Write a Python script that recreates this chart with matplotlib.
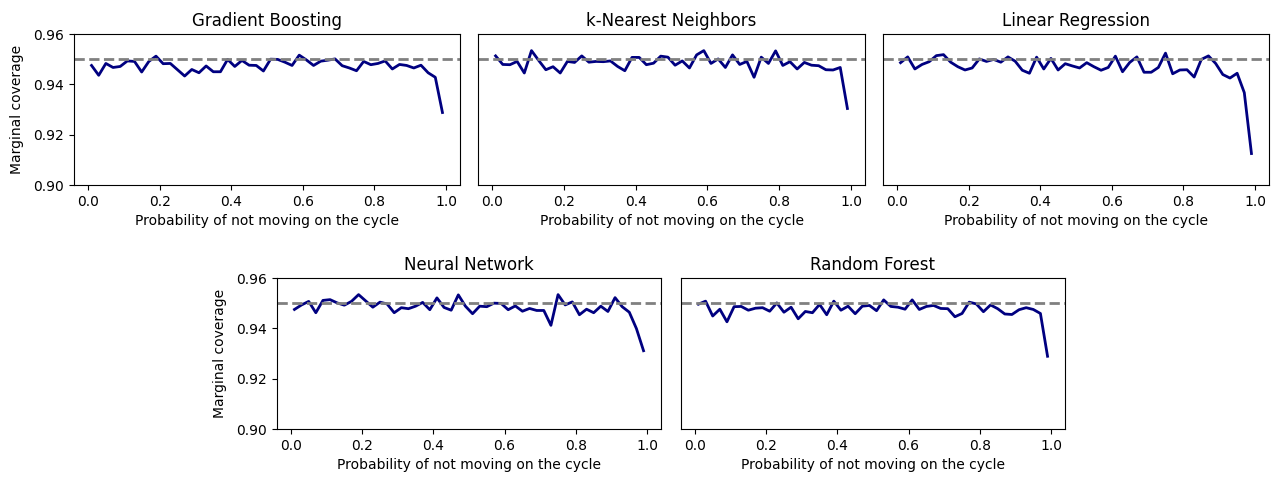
import numpy as np
import matplotlib
matplotlib.use('Agg')
import matplotlib.pyplot as plt

# probability of staying put, 0.01 .. 0.99
p_stay = np.arange(0.01, 1.0, 0.02)

gradient_boosting = [0.9475, 0.9436, 0.9483, 0.9467, 0.9471, 0.9493, 0.9491, 0.9449, 0.9491, 0.9512,
                     0.9482, 0.9483, 0.9458, 0.9433, 0.9459, 0.9446, 0.9473, 0.9450, 0.9450, 0.9499,
                     0.9471, 0.9495, 0.9476, 0.9475, 0.9453, 0.9500, 0.9499, 0.9488, 0.9475, 0.9516,
                     0.9497, 0.9475, 0.9492, 0.9496, 0.9501, 0.9474, 0.9465, 0.9454, 0.9491, 0.9478,
                     0.9483, 0.9493, 0.9461, 0.9479, 0.9475, 0.9465, 0.9476, 0.9446, 0.9428, 0.9288]

knn = [0.9513, 0.9479, 0.9478, 0.9491, 0.9445, 0.9534, 0.9495, 0.9458, 0.9470, 0.9445,
       0.9491, 0.9487, 0.9513, 0.9488, 0.9491, 0.9490, 0.9493, 0.9471, 0.9454, 0.9507,
       0.9507, 0.9478, 0.9484, 0.9512, 0.9508, 0.9476, 0.9493, 0.9465, 0.9517, 0.9534,
       0.9483, 0.9501, 0.9467, 0.9517, 0.9479, 0.9491, 0.9428, 0.9508, 0.9483, 0.9533,
       0.9475, 0.9490, 0.9461, 0.9487, 0.9476, 0.9474, 0.9458, 0.9457, 0.9467, 0.9304]

linear_regression = [0.9486, 0.9509, 0.9461, 0.9479, 0.9490, 0.9514, 0.9518, 0.9488, 0.9470, 0.9457,
                     0.9465, 0.9501, 0.9491, 0.9499, 0.9488, 0.9509, 0.9492, 0.9456, 0.9444, 0.9508,
                     0.9461, 0.9503, 0.9457, 0.9482, 0.9473, 0.9465, 0.9486, 0.9470, 0.9456, 0.9467,
                     0.9512, 0.9450, 0.9487, 0.9509, 0.9448, 0.9448, 0.9467, 0.9524, 0.9442, 0.9457,
                     0.9458, 0.9429, 0.9499, 0.9513, 0.9483, 0.9439, 0.9425, 0.9444, 0.9367, 0.9125]

neural_network = [0.9475, 0.9493, 0.9507, 0.9462, 0.9511, 0.9514, 0.9501, 0.9492, 0.9507, 0.9534,
                  0.9509, 0.9484, 0.9504, 0.9497, 0.9462, 0.9482, 0.9478, 0.9488, 0.9503, 0.9474,
                  0.9521, 0.9483, 0.9472, 0.9533, 0.9488, 0.9458, 0.9488, 0.9486, 0.9500, 0.9499,
                  0.9474, 0.9489, 0.9468, 0.9479, 0.9471, 0.9471, 0.9412, 0.9534, 0.9493, 0.9505,
                  0.9454, 0.9476, 0.9462, 0.9488, 0.9467, 0.9522, 0.9486, 0.9464, 0.9399, 0.9311]

random_forest = [0.9496, 0.9508, 0.9449, 0.9476, 0.9426, 0.9486, 0.9487, 0.9472, 0.9480, 0.9482,
                 0.9468, 0.9501, 0.9464, 0.9484, 0.9438, 0.9467, 0.9462, 0.9495, 0.9454, 0.9508,
                 0.9472, 0.9488, 0.9458, 0.9488, 0.9491, 0.9470, 0.9513, 0.9487, 0.9484, 0.9476,
                 0.9513, 0.9475, 0.9487, 0.9491, 0.9479, 0.9478, 0.9446, 0.9459, 0.9504, 0.9497,
                 0.9466, 0.9493, 0.9478, 0.9457, 0.9455, 0.9474, 0.9482, 0.9475, 0.9459, 0.9289]

models = ['Gradient Boosting', 'k-Nearest Neighbors', 'Linear Regression',
          'Neural Network', 'Random Forest']
coverages = [gradient_boosting, knn, linear_regression, neural_network, random_forest]
target = 0.95

W, H = 1274, 484
# axes boxes in pixels: left, top, right, bottom
boxes = [(74, 34, 460, 185), (478, 34, 865, 185), (883, 34, 1269, 185),
         (277, 278, 661, 429), (681, 278, 1065, 429)]

fig = plt.figure(figsize=(W / 100, H / 100), dpi=100)

for i, (name, cov) in enumerate(zip(models, coverages)):
    l, t, r, b = boxes[i]
    ax = fig.add_axes([l / W, (H - b) / H, (r - l) / W, (b - t) / H])
    ax.plot(p_stay, cov, color='navy', lw=2)
    ax.axhline(target, color='gray', ls='--', lw=2)
    ax.set_ylim(0.90, 0.96)
    ax.set_yticks([0.90, 0.92, 0.94, 0.96])
    ax.set_title(name, fontsize=12)
    ax.set_xlabel('Probability of not moving on the cycle')
    if i in (0, 3):
        ax.set_ylabel('Marginal coverage', labelpad=7)
    else:
        ax.tick_params(left=False, labelleft=False)

plt.savefig('out.png', dpi=100)
